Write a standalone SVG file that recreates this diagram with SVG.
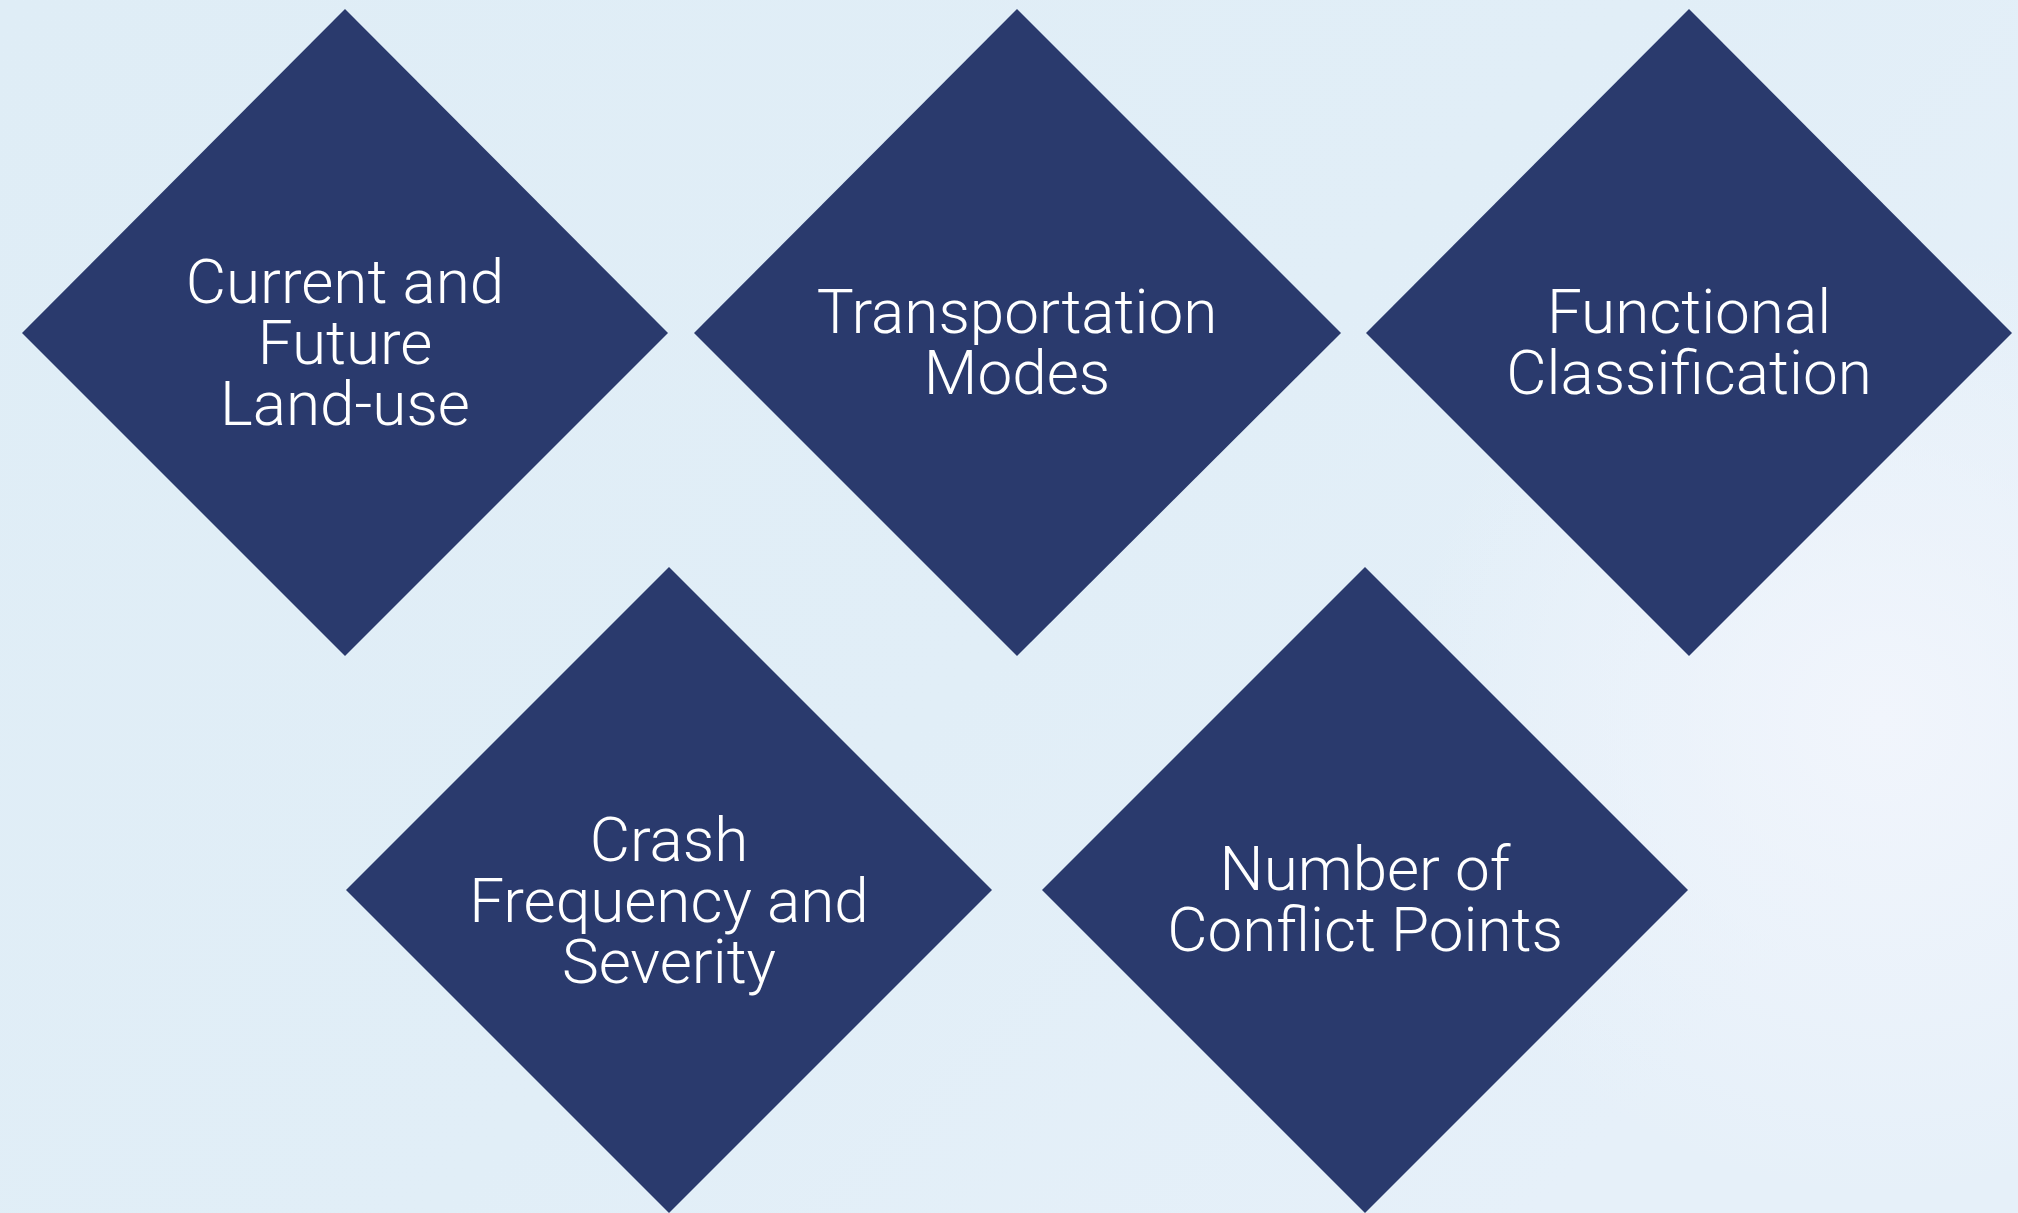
<svg xmlns="http://www.w3.org/2000/svg" width="2018" height="1213" viewBox="0 0 2018 1213">
<defs>
<linearGradient id="bg" x1="0" y1="0" x2="1" y2="0.6">
<stop offset="0" stop-color="#dfedf6"/>
<stop offset="0.6" stop-color="#e1eef7"/>
<stop offset="1" stop-color="#e6f0f9"/>
</linearGradient>
<radialGradient id="glow" cx="1880" cy="720" r="480" gradientUnits="userSpaceOnUse">
<stop offset="0" stop-color="#f1f5fc" stop-opacity="1"/>
<stop offset="1" stop-color="#f1f5fc" stop-opacity="0"/>
</radialGradient>
</defs>
<style>
.d{fill:#2a3a6d}
.t{fill:#ffffff;font-family:Roboto,"Liberation Sans",sans-serif;font-weight:300;font-size:62px;text-anchor:middle}
</style>
<rect width="2018" height="1213" fill="url(#bg)"/>
<rect width="2018" height="1213" fill="url(#glow)"/>
<g id="connectors"></g>
<g id="node-landuse">
<polygon class="d" points="345,9 668,333 345,656 22,333"/>
<text class="t" x="345" y="303">Current and</text>
<text class="t" x="345" y="364">Future</text>
<text class="t" x="345" y="425">Land-use</text>
</g>
<g id="node-modes">
<polygon class="d" points="1017,9 1341,333 1017,656 694,333"/>
<text class="t" x="1017" y="333">Transportation</text>
<text class="t" x="1017" y="394">Modes</text>
</g>
<g id="node-functional">
<polygon class="d" points="1689,9 2012,333 1689,656 1366,333"/>
<text class="t" x="1689" y="333">Functional</text>
<text class="t" x="1689" y="394">Classification</text>
</g>
<g id="node-crash">
<polygon class="d" points="669,567 992,890 669,1213 346,890"/>
<text class="t" x="669" y="861">Crash</text>
<text class="t" x="669" y="922">Frequency and</text>
<text class="t" x="669" y="983">Severity</text>
</g>
<g id="node-conflict">
<polygon class="d" points="1365,567 1688,890 1365,1213 1042,890"/>
<text class="t" x="1365" y="890">Number of</text>
<text class="t" x="1365" y="951">Conflict Points</text>
</g>
</svg>
